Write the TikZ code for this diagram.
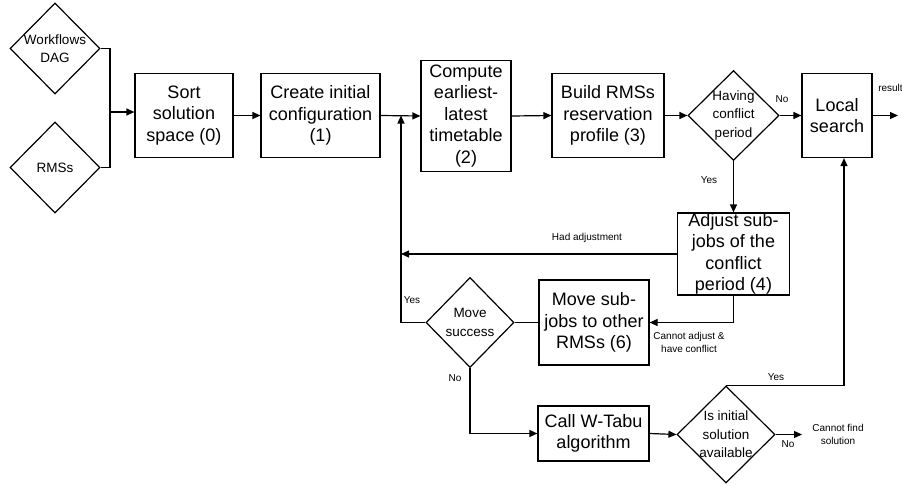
\documentclass[tikz,border=0pt]{standalone}
\usepackage{fontspec}
\setmainfont{Liberation Sans}
\usetikzlibrary{shapes.geometric,arrows.meta}

\tikzset{
  line/.style={line width=1.2pt, draw=black},
  arr/.style={line, -{Triangle[length=8pt,width=7pt]}},
  box/.style={draw, line width=1.2pt, inner sep=0pt, rectangle},
  dia/.style={draw, line width=1.2pt, inner sep=0pt, diamond},
  btext/.style={font=\fontsize{18}{21.5}\selectfont, align=center, inner sep=0pt},
  dtext/.style={font=\fontsize{13.5}{18.5}\selectfont, align=center, inner sep=0pt},
  small/.style={font=\fontsize{10}{13}\selectfont, align=center, inner sep=0pt},
}

\begin{document}
\begin{tikzpicture}[x=1pt, y=-1pt]
\useasboundingbox (0,0) rectangle (902,485);

% inputs
\node[dia, minimum width=90pt, minimum height=91pt,
      label={[dtext]center:Workflows\\DAG}] (dag) at (55,48.5) {};
\node[dia, minimum width=90pt, minimum height=91pt,
      label={[dtext]center:RMSs}] (rms) at (55,167.5) {};

% main row
\node[box, minimum width=98pt, minimum height=84pt,
      label={[btext]center:Sort\\solution\\space (0)}] (sort) at (184,115.5) {};
\node[box, minimum width=119pt, minimum height=84pt,
      label={[btext]center:Create initial\\configuration\\(1)}] (create) at (320.5,115.5) {};
\node[box, minimum width=90pt, minimum height=111pt,
      label={[btext]center:Compute\\earliest-\\latest\\timetable\\(2)}] (compute) at (466,116) {};
\node[box, minimum width=112pt, minimum height=84pt,
      label={[btext]center:Build RMSs\\reservation\\profile (3)}] (build) at (608,115.5) {};
\node[dia, minimum width=91pt, minimum height=90pt,
      label={[dtext]center:Having\\conflict\\period}] (having) at (733.5,115.5) {};
\node[box, minimum width=70pt, minimum height=84pt,
      label={[btext]center:Local\\search}] (local) at (837,115.5) {};

% conflict handling
\node[box, minimum width=112pt, minimum height=82pt,
      label={[btext]center:Adjust sub-\\jobs of the\\conflict\\period (4)}] (adjust) at (733.5,254) {};
\node[box, minimum width=110pt, minimum height=85pt,
      label={[btext]center:Move sub-\\jobs to other\\RMSs (6)}] (move) at (594,322.5) {};
\node[dia, minimum width=88pt, minimum height=90pt,
      label={[dtext]center:Move\\success}] (movesucc) at (470,322.5) {};
\node[box, minimum width=111pt, minimum height=55pt,
      label={[btext]center:Call W-Tabu\\algorithm}] (tabu) at (593.5,433.5) {};
\node[dia, minimum width=98pt, minimum height=97pt,
      label={[dtext]center:Is initial\\solution\\available}] (isinit) at (726,434.5) {};

% helper points
\coordinate (join) at (110,112);
\coordinate (looptop) at (401,115.5);
\coordinate (upx) at (844,0);
\coordinate (resend) at (898,115.5);
\coordinate (nofind) at (802,434.5);

% connectors
\draw[line] (dag.east) -| (join);
\draw[line] (rms.east) -| (join);
\draw[arr] (join) -- (join -| sort.west);
\draw[arr] (sort.east) -- (create.west);
\draw[arr] (create.east) -- (compute.west);
\draw[arr] (compute.east) -- (build.west);
\draw[arr] (build.east) -- (having.west);
\draw[arr] (having.east) -- (local.west);
\draw[arr] (local.east) -- (resend);
\draw[arr] (having.south) -- (adjust.north);
\draw[arr] (adjust.west) -- (adjust.west -| looptop);
\draw[arr] (adjust.south) |- (move.east);
\draw[line] (move.west) -- (movesucc.east);
\draw[arr] (movesucc.west) -| (looptop);
\draw[arr] (movesucc.south) |- (tabu.west);
\draw[arr] (tabu.east) -- (isinit.west);
\draw[arr] (isinit.north) -| (local.south -| upx);
\draw[arr] (isinit.east) -- (nofind);

% connector labels
\node[small] (lno1) at (782,99) {No};
\node[small] (lres) at (890.5,88) {result};
\node[small] (lyes1) at (709,180) {Yes};
\node[small] (lhad) at (587,238) {Had adjustment};
\node[small] (lcannot) at (689,342.5) {Cannot adjust \&\\have conflict};
\node[small] (lyes2) at (412,300) {Yes};
\node[small] (lno2) at (455,378) {No};
\node[small] (lyes3) at (776,377) {Yes};
\node[small] (lno3) at (788,444) {No};
\node[small] (lfind) at (838,434) {Cannot find\\solution};
\end{tikzpicture}
\end{document}
